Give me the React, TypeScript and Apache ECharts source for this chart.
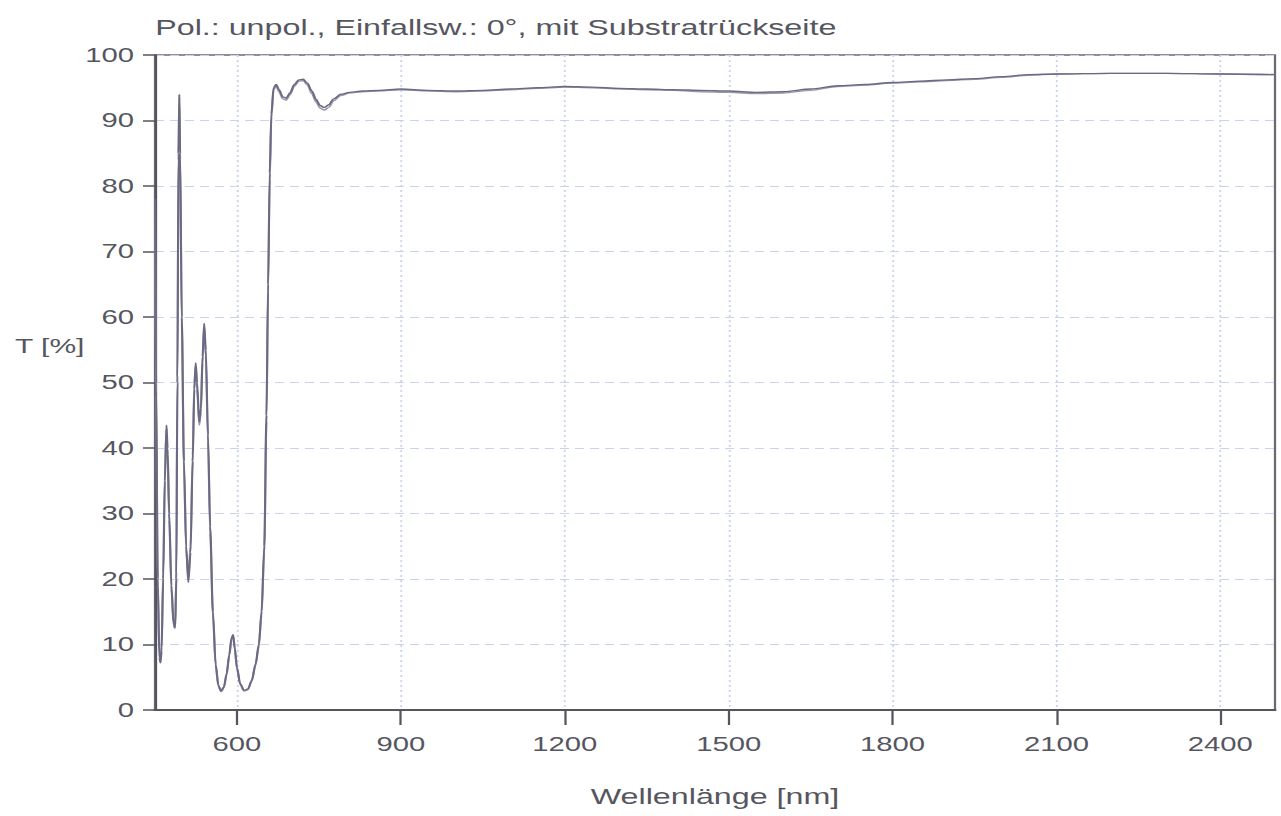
import React, { useEffect, useRef } from "react";
import * as echarts from "echarts";

// Wavelength samples (nm)
const wavelengths = [
  450, 452, 455, 458, 460, 462, 465, 468, 471, 473, 476, 480, 484, 487, 489, 491, 493, 494.5, 496, 499,
  503, 507, 511, 515, 519, 522, 524.5, 527, 531, 534, 537, 540, 543, 547, 551, 556, 561, 566, 571, 576,
  581, 586, 590, 593, 596, 600, 606, 613, 620, 627, 634, 640, 645, 650, 654, 657, 660, 663, 667, 672,
  677, 684, 690, 697, 705, 713, 721, 729, 737, 745, 752, 760, 768, 777, 790, 806, 830, 860, 900, 950,
  1000, 1050, 1100, 1150, 1200, 1250, 1300, 1350, 1400, 1450, 1500, 1550, 1600, 1650, 1700, 1750, 1800, 1850, 1900, 1950,
  2000, 2050, 2100, 2200, 2300, 2400, 2500,
];

// Transmission, measurement 1 (%)
const transA = [
  78, 50, 20, 8, 7.2, 9, 20, 35, 43.5, 40, 30, 19, 13, 12.5, 20, 50, 85, 94, 85, 60,
  38, 25, 19.5, 24, 38, 49, 53, 50, 44, 46, 54, 59, 55, 42, 28, 15, 7, 3.8, 2.9, 3.5,
  5.5, 8.5, 11, 11.5, 9.5, 6.5, 4, 3.0, 3.2, 4.5, 7, 10, 15, 25, 45, 65, 82, 91, 95, 95.5,
  94.7, 93.6, 93.4, 94.2, 95.5, 96.2, 96.3, 95.7, 94.5, 93.2, 92.3, 92.0, 92.4, 93.3, 94.0, 94.3, 94.5, 94.6, 94.8, 94.6,
  94.5, 94.6, 94.8, 95.0, 95.2, 95.1, 94.9, 94.8, 94.7, 94.6, 94.5, 94.3, 94.4, 94.8, 95.3, 95.5, 95.8, 96.0, 96.2, 96.4,
  96.7, 97.0, 97.1, 97.2, 97.2, 97.1, 97.0,
];

// Transmission, measurement 2 (%)
const transB = [
  77, 48, 19, 8.5, 7.6, 9.5, 21, 36, 43, 39, 29, 18.5, 13.5, 13, 21, 51, 84, 93.5, 84, 59,
  37, 24.5, 20, 25, 39, 50, 52.5, 49, 43.5, 45.5, 53, 58.5, 54, 41, 27, 14.5, 6.8, 3.6, 2.8, 3.4,
  5.3, 8.3, 10.8, 11.3, 9.3, 6.3, 3.9, 2.9, 3.1, 4.4, 6.8, 9.7, 14.5, 24, 44, 64, 81, 90.5, 94.7, 95.3,
  94.4, 93.3, 93.1, 93.9, 95.2, 96.0, 96.1, 95.4, 94.1, 92.8, 91.9, 91.6, 92.0, 93.0, 93.8, 94.2, 94.4, 94.5, 94.7, 94.5,
  94.4, 94.5, 94.7, 94.9, 95.1, 95.0, 94.8, 94.7, 94.6, 94.4, 94.3, 94.1, 94.2, 94.6, 95.2, 95.4, 95.7, 95.9, 96.1, 96.3,
  96.6, 96.9, 97.1, 97.2, 97.2, 97.1, 97.0,
];

const xTicks = [600, 900, 1200, 1500, 1800, 2100, 2400];

const titleText = "Pol.: unpol., Einfallsw.: 0°, mit Substratrückseite";
const yName = "T [%]";
const xName = "Wellenlänge [nm]";

const SX = 1.5; // horizontal stretch of the scanned original
const W = 1281 / SX;
const H = 816;

export default function App() {
  const ref = useRef<HTMLDivElement>(null);
  useEffect(() => {
    if (!ref.current) return;
    const chart = echarts.init(ref.current, undefined, { renderer: "svg" });
    const font = "Liberation Sans, Arial, sans-serif";
    const textColor = "#565660";
    const gridColor = "#c9d3ee";
    const lineA = wavelengths.map((w, i) => [w, transA[i]]);
    const lineB = wavelengths.map((w, i) => [w, transB[i]]);
    chart.setOption({
      animation: false,
      backgroundColor: "#ffffff",
      title: {
        text: titleText,
        left: 103.5,
        top: 17,
        padding: 0,
        textStyle: { fontFamily: font, fontSize: 21.5, fontWeight: "normal", color: textColor },
      },
      graphic: [
        {
          type: "text",
          left: 10,
          top: 336,
          style: { text: yName, font: `20px ${font}`, fill: textColor },
        },
      ],
      grid: {
        left: 155 / SX,
        right: 6 / SX,
        top: 55,
        bottom: 106,
        show: true,
        borderColor: "#6a6a72",
        borderWidth: 1.5,
      },
      xAxis: {
        type: "value",
        min: 450,
        max: 2500,
        name: xName,
        nameLocation: "middle",
        nameGap: 76,
        nameTextStyle: { fontFamily: font, fontSize: 21.5, color: textColor },
        axisLine: { show: true, onZero: false, lineStyle: { color: "#55555e", width: 2 } },
        axisTick: { show: true, customValues: xTicks, length: 15, lineStyle: { color: "#55555e", width: 1.5 } },
        axisLabel: {
          customValues: xTicks,
          margin: 24,
          fontFamily: font,
          fontSize: 19.5,
          color: textColor,
          formatter: (v: number) => String(v),
        },
        splitLine: { show: true, lineStyle: { color: gridColor, type: [2, 3], width: 1.2 } },
      },
      yAxis: {
        type: "value",
        min: 0,
        max: 100,
        interval: 10,
        axisLine: { show: true, lineStyle: { color: "#55555e", width: 1.5 } },
        axisTick: { show: true, length: 8, lineStyle: { color: "#55555e", width: 1.5 } },
        axisLabel: { margin: 14, fontFamily: font, fontSize: 19.5, color: textColor },
        splitLine: { show: true, lineStyle: { color: gridColor, type: [6, 4], width: 1.2 } },
      },
      series: [
        {
          type: "line",
          data: lineB,
          showSymbol: false,
          smooth: 0.3,
          smoothMonotone: "x",
          lineStyle: { color: "#9a98ae", width: 1.4 },
        },
        {
          type: "line",
          data: lineA,
          showSymbol: false,
          smooth: 0.3,
          smoothMonotone: "x",
          lineStyle: { color: "#6c6a82", width: 1.4 },
        },
      ],
    });
    return () => chart.dispose();
  }, []);
  return (
    <div
      ref={ref}
      style={{
        position: "fixed",
        left: 0,
        top: 0,
        width: W,
        height: H,
        transform: `scaleX(${SX})`,
        transformOrigin: "0 0",
      }}
    />
  );
}
